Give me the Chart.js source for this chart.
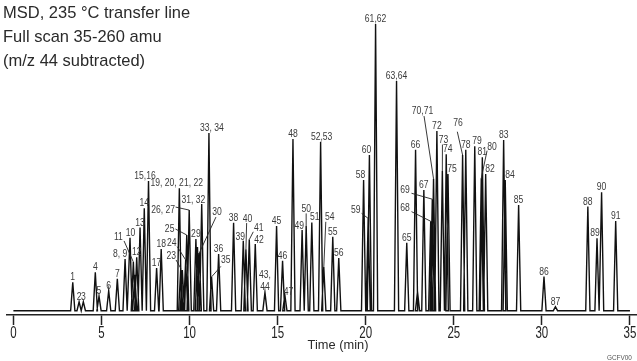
<!DOCTYPE html>
<html>
<head>
<meta charset="utf-8">
<script src="https://cdn.jsdelivr.net/npm/chart.js@4/dist/chart.umd.min.js"></script>
<style>
html,body{margin:0;padding:0;background:#fff;}
#wrap{width:637px;height:361px;position:relative;}
</style>
</head>
<body>
<div id="wrap"><canvas id="c"></canvas></div>
<script>
// ---- data ----
const peakTimes = [3.37, 3.73, 3.97, 4.65, 4.86, 5.41, 5.90, 6.34, 6.62, 6.81, 6.89, 7.00, 7.19, 7.43, 7.67, 8.13, 8.39,
  9.42, 9.50, 9.59, 9.78, 9.84, 9.98, 10.36, 10.45, 10.55, 10.69, 11.10, 11.25, 11.65, 12.50, 13.05, 13.20, 13.39, 13.73,
  14.28, 14.94, 15.28, 15.41, 15.87, 16.39, 16.62, 16.94, 17.44, 17.62, 18.13, 18.47, 19.88, 20.14, 20.21, 20.56, 21.75,
  22.33, 22.83, 22.94, 23.30, 23.69, 23.78, 23.85, 24.04, 24.35, 24.57, 24.67, 25.50, 25.68, 26.19, 26.56, 26.62, 26.81,
  27.83, 27.92, 28.68, 30.12, 30.77, 32.61, 33.13, 33.39, 34.19];
const peakHeights = [9.9, 3.1, 3.1, 13.4, 5.1, 7.0, 11.1, 18.0, 25.4, 17.0, 12.5, 18.6, 29.0, 35.7, 45.2, 14.9, 21.5,
  42.7, 14.8, 14.2, 17.7, 26.4, 35.1, 25.0, 22.2, 20.1, 37.2, 62.0, 11.8, 19.8, 30.7, 24.4, 21.4, 24.8, 23.3,
  6.4, 29.5, 17.4, 5.5, 59.9, 28.1, 29.5, 30.8, 58.9, 15.2, 25.8, 18.4, 45.6, 32.2, 54.3, 100, 80.1,
  23.7, 56.1, 6.6, 42.1, 31.2, 38.9, 46.0, 62.7, 48.7, 54.6, 47.7, 54.3, 56.1, 57.4, 46.2, 53.5, 47.7,
  59.5, 45.6, 36.9, 11.9, 1.4, 36.3, 25.3, 41.3, 31.3];
const peakLabels = ["1", "2", "3", "4", "5", "6", "7", "8, 9", "10", "11", "", "12", "13", "14", "15,16", "17", "18",
  "19, 20, 21, 22", "23", "", "24", "25", "26, 27", "29", "", "30", "31, 32", "33, 34", "35", "36", "38", "39", "40", "41", "42",
  "43,|44", "45", "46", "47", "48", "49", "50", "51", "52,53", "54", "55", "56", "58", "59", "60", "61,62", "63,64",
  "65", "66", "", "67", "68", "69", "70,71", "72", "73", "74", "75", "76", "78", "79", "80", "81", "82",
  "83", "84", "85", "86", "87", "88", "89", "90", "91"];
const tickValues = [0, 5, 10, 15, 20, 25, 30, 35];
const timeRange = [0, 35];
const headerLines = ["MSD, 235 \u00B0C transfer line", "Full scan 35-260 amu", "(m/z 44 subtracted)"];
const xTitle = "Time (min)";
const figureCode = "GCFV00";

// ---- label placement (pixel offsets from peak top) ----
const labelLayout = {
  "8, 9": {dx: -5},
  "10": {dx: 0.5},
  "11": {dx: -15, dy: -22, lx: -9.3, ly: -21},
  "15,16": {dx: -3.5},
  "19, 20, 21, 22": {dx: -2.6},
  "26, 27": {dx: -26, dy: 3.3, lx: -13.6, ly: -3},
  "31, 32": {dx: -8.4, dy: -1},
  "25": {dx: -17.1, dy: -3.3, lx: -11.3, ly: -6},
  "24": {dx: -14, dy: -14, lx: -8.4, ly: -13.3},
  "23": {dx: -9.4, dy: -9, lx: -4.7, ly: -8.3},
  "30": {dx: 17.7, dy: -38, lx: 16.7, ly: -36},
  "33, 34": {dx: 3},
  "35": {dx: 14.3, dy: -13.7, lx: 9.3, ly: -10.5},
  "39": {dx: -3, dy: -1},
  "40": {dx: 1.5, dy: -27.6, lx: 0.7, ly: -26.3},
  "41": {dx: 9.4, dy: -8.8, lx: 4, ly: -7.8},
  "42": {dx: 3.7, dy: -1.3},
  "47": {dx: 3.7, dy: 0},
  "49": {dx: -2.8, dy: -1},
  "50": {dx: 0, dy: -14.3, lx: 0, ly: -12.7},
  "51": {dx: 3},
  "52,53": {dx: 1},
  "54": {dx: 6, dy: -47, lx: 2, ly: -45.3},
  "58": {dx: -3},
  "59": {dx: -12.5, dy: -5.6, lx: -6.6, ly: -5},
  "60": {dx: -3},
  "68": {dx: -25.6, dy: -10.6, lx: -19.2, ly: -9.6},
  "69": {dx: -27.2, dy: -6.5, lx: -20.8, ly: -5.9},
  "70,71": {dx: -11, dy: -64.8, lx: -9.5, ly: -62.8},
  "73": {dx: 1.1, dy: -28.3, lx: 0.1, ly: -26.5},
  "74": {dx: 1.5},
  "75": {dx: 4},
  "76": {dx: -4.5, dy: -29, lx: -5.3, ly: -23.3},
  "79": {dx: 2.3},
  "80": {dx: 10.8, dy: -28.3, lx: 5.8, ly: -27.6},
  "82": {dx: 4.3},
  "84": {dx: 4.8},
  "89": {dx: -2}
};

// ---- build the trace from the peak list ----
const halfWidth = 0.12;
const trace = [{x: timeRange[0], y: 0}];
peakTimes.forEach((t, i) => {
  trace.push({x: t - halfWidth, y: 0});
  trace.push({x: t, y: peakHeights[i]});
  trace.push({x: t + halfWidth, y: 0});
});
trace.push({x: timeRange[1], y: 0});

const regular = '"Liberation Sans", Arial, sans-serif';

// draw horizontally condensed text (imitates a condensed typeface)
function narrowText(ctx, text, x, y, sx, align) {
  ctx.save();
  ctx.translate(x, y);
  ctx.scale(sx, 1);
  ctx.textAlign = align || 'center';
  ctx.fillText(text, 0, 0);
  ctx.restore();
}

const annotate = {
  id: 'annotate',
  afterDatasetsDraw(chart) {
    const ctx = chart.ctx;
    const xs = chart.scales.x, ys = chart.scales.y;
    ctx.save();
    ctx.textBaseline = 'alphabetic';
    // peak labels
    ctx.font = '11px ' + regular;
    ctx.fillStyle = '#3a3a3a';
    ctx.strokeStyle = '#222';
    ctx.lineWidth = 0.9;
    peakLabels.forEach((lab, i) => {
      if (!lab) return;
      const px = xs.getPixelForValue(peakTimes[i]);
      const py = ys.getPixelForValue(peakHeights[i]);
      const L = labelLayout[lab] || {};
      const dx = L.dx !== undefined ? L.dx : 0;
      const dy = L.dy !== undefined ? L.dy : -2;
      const parts = lab.split('|');
      parts.forEach((p, k) => {
        narrowText(ctx, p, px + dx, py + dy - (parts.length - 1 - k) * 12.5, 0.78);
      });
      if (L.lx !== undefined) {
        ctx.beginPath();
        ctx.moveTo(px + L.lx, py + L.ly);
        ctx.lineTo(px, py);
        ctx.stroke();
      }
    });
    // x tick labels from the axis ticks
    ctx.font = '16px ' + regular;
    ctx.fillStyle = '#222';
    xs.ticks.forEach(tk => {
      narrowText(ctx, String(tk.value), xs.getPixelForValue(tk.value), 338.2, 0.72);
    });
    // header text
    ctx.fillStyle = '#2a2a2a';
    ctx.font = '17px ' + regular;
    const base = [18.3, 42, 65.5];
    headerLines.forEach((s, k) => narrowText(ctx, s, 3, base[k], 0.97, 'left'));
    // axis title
    ctx.font = '13.5px ' + regular;
    narrowText(ctx, xTitle, 338, 349, 0.95);
    ctx.font = '8px ' + regular;
    ctx.fillStyle = '#555';
    narrowText(ctx, figureCode, 607, 360, 0.8, 'left');
    ctx.restore();
  }
};

new Chart(document.getElementById('c'), {
  type: 'scatter',
  data: {
    datasets: [{
      data: trace,
      showLine: true,
      borderColor: '#111',
      borderWidth: 1.4,
      pointRadius: 0,
      pointHoverRadius: 0,
      tension: 0,
      fill: false
    }]
  },
  options: {
    responsive: true,
    maintainAspectRatio: false,
    devicePixelRatio: 1,
    animation: false,
    events: [],
    layout: {padding: {left: 6.7, right: 0, top: 24, bottom: 0}},
    plugins: {legend: {display: false}, tooltip: {enabled: false}, title: {display: false}},
    scales: {
      x: {
        type: 'linear',
        min: -0.38,
        max: 35.4,
        afterBuildTicks: (s) => { s.ticks = tickValues.map(v => ({value: v})); },
        afterFit: (s) => { s.height = 46; s.paddingLeft = 0; s.paddingRight = 0; },
        border: {display: true, color: '#222', width: 1.5},
        grid: {display: true, drawOnChartArea: false, drawTicks: true, tickLength: 10, tickWidth: 1.5, tickColor: '#222'},
        ticks: {display: false}
      },
      y: {
        display: false,
        min: -1.5,
        max: 100
      }
    }
  },
  plugins: [annotate]
});
</script>
</body>
</html>
